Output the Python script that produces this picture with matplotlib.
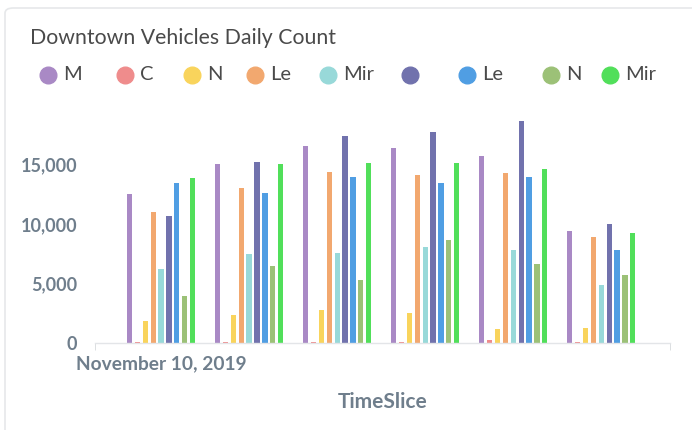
import matplotlib.pyplot as plt
from matplotlib.patches import FancyBboxPatch
from matplotlib.lines import Line2D
import numpy as np

plt.rcParams['font.family'] = ['Lato', 'DejaVu Sans']

# six days, only the first one gets a label
days = ["November 10, 2019", "", "", "", "", ""]

# legend names are cut off in the original card
series_names = ["M", "C", "N", "Le", "Mir", "", "Le", "N", "Mir"]
series_colors = ["#A989C5", "#EF8C8C", "#F9D45C", "#F2A86F", "#98D9D9",
                 "#7172AD", "#509EE3", "#9CC177", "#51DF5A"]

s_purple = [12500, 15000, 16550, 16350, 15700, 9400]
s_red = [100, 100, 100, 100, 200, 60]
s_yellow = [1800, 2330, 2750, 2470, 1180, 1260]
s_orange = [11000, 13050, 14350, 14080, 14250, 8900]
s_cyan = [6200, 7430, 7550, 8070, 7800, 4850]
s_indigo = [10650, 15170, 17380, 17720, 18650, 9960]
s_blue = [13450, 12620, 13960, 13460, 13960, 7820]
s_olive = [3930, 6450, 5270, 8640, 6620, 5690]
s_green = [13830, 15030, 15140, 15140, 14600, 9250]
series = [s_purple, s_red, s_yellow, s_orange, s_cyan,
          s_indigo, s_blue, s_olive, s_green]

W, H = 692, 430
fig = plt.figure(figsize=(W / 100, H / 100), dpi=100)

# card outline
card = FancyBboxPatch((5 / W, 1 - 440 / H), 700 / W, 432 / H,
                      boxstyle="round,pad=0,rounding_size=0.012",
                      transform=fig.transFigure, facecolor="white",
                      edgecolor="#E6E8EA", linewidth=1.2, zorder=-10)
fig.patches.append(card)

fig.text(30 / W, 1 - 38 / H, "Downtown Vehicles Daily Count",
         fontsize=15.3, color="#4A4A4A", va="center", ha="left")

# legend row
leg_x = [48, 125, 192, 255, 328, 410, 467, 551, 610]
for x, name, col in zip(leg_x, series_names, series_colors):
    fig.add_artist(Line2D([x / W], [1 - 75 / H], marker="o", markersize=12,
                          color=col, linestyle="none",
                          transform=fig.transFigure))
    fig.text((x + 15) / W, 1 - 75 / H, name, fontsize=14.5, color="#4A4A4A",
             va="center", ha="left")

ymax = 19500
px_per_unit = 11.89 / 1000
ax_left, ax_right, ax_bottom = 95, 670, 342.7
ax_h = ymax * px_per_unit
ax = fig.add_axes([ax_left / W, (H - ax_bottom) / H,
                   (ax_right - ax_left) / W, ax_h / H])
ax.patch.set_alpha(0)

x = np.arange(len(days))
slot = 0.0895
bw = 0.06
for i, (vals, col) in enumerate(zip(series, series_colors)):
    ax.bar(x + (i - 4) * slot, vals, width=bw, color=col, zorder=2)

ax.set_xlim(-0.75, 5.78)
ax.set_ylim(0, ymax)

ax.set_yticks([0, 5000, 10000, 15000])
ax.set_yticklabels(["0", "5,000", "10,000", "15,000"])
ax.set_xticks([0])
ax.set_xticklabels([days[0]])
ax.set_xticks([-0.75, 5.78], minor=True)

for sp in ["top", "right", "left"]:
    ax.spines[sp].set_visible(False)
ax.spines["bottom"].set_color("#E3E5E8")
ax.spines["bottom"].set_linewidth(1)

ax.tick_params(axis="y", length=0, pad=13, labelsize=13,
               labelcolor="#6F7E8C")
ax.tick_params(axis="x", which="major", length=0, pad=9, labelsize=13.8,
               labelcolor="#6F7E8C")
ax.tick_params(axis="x", which="minor", length=5, color="#D6D9DC")
for lab in ax.get_yticklabels() + ax.get_xticklabels():
    lab.set_fontweight("bold")

fig.text((ax_left + ax_right) / 2 / W, 1 - 402 / H, "TimeSlice",
         fontsize=15, fontweight="bold", color="#6F7E8C",
         ha="center", va="center")

fig.savefig("out.png", dpi=100)
